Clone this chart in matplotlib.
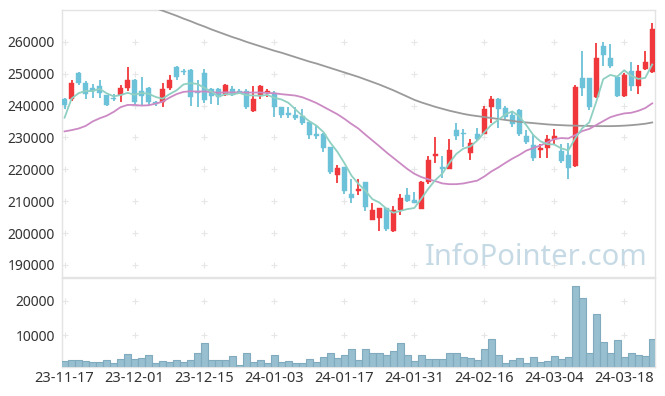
import numpy as np
import pandas as pd
import matplotlib
matplotlib.use("Agg")
import matplotlib.pyplot as plt

plt.rcParams['font.family'] = ['Noto Sans', 'DejaVu Sans']

# ---------------- data ----------------
opens = [242200, 242100, 250300, 247200, 245400, 246200, 243200, 242400, 243400, 245400,
         248100, 244700, 245600, 241200, 241000, 245400, 252100, 250700, 251200, 244700,
         250200, 245200, 245200, 243400, 245300, 244700, 244700, 238400, 242900, 243800,
         244000, 239600, 237800, 237200, 236600, 234700, 231200, 231200, 227000, 218200,
         220700, 212200, 213200, 215900, 204100, 204600, 207800, 200700, 207200, 211900,
         210300, 207600, 215900, 224200, 220700, 220100, 232200, 231400, 225200, 231200,
         231100, 239500, 242200, 239100, 237200, 238700, 230300, 227700, 226000, 226800,
         229600, 225600, 224400, 221000, 248600, 248600, 242600, 258700, 254900, 249000,
         242900, 251000, 246200, 251400, 250400]
highs = [242400, 248100, 250500, 247800, 246700, 248100, 243300, 243600, 246600, 252100,
         248300, 249000, 245800, 241500, 247000, 249500, 252300, 251500, 251400, 247900,
         251500, 245400, 245400, 246700, 246000, 245200, 245200, 246200, 246400, 245300,
         244500, 239700, 239600, 239600, 239000, 234800, 233700, 231300, 227100, 221200,
         220800, 217100, 217100, 216000, 209300, 207900, 207900, 208500, 212200, 214100,
         213000, 216200, 224300, 230200, 224200, 229400, 234600, 232700, 229400, 233000,
         239900, 242900, 242300, 239800, 238400, 238800, 232300, 231100, 228100, 230900,
         232800, 227800, 228300, 246500, 257200, 248700, 259600, 259800, 259300, 249100,
         250200, 253800, 252800, 257000, 266000]
lows = [238800, 241400, 246400, 242100, 242300, 242300, 239800, 241400, 241100, 244700,
        240300, 239800, 240300, 239900, 239600, 245000, 248100, 249500, 239800, 239600,
        240800, 240600, 240300, 242900, 243000, 243700, 238800, 237900, 242100, 242700,
        236500, 236200, 236200, 235400, 234000, 229400, 229400, 225500, 218400, 215800,
        212400, 209300, 211900, 207000, 204000, 200700, 200700, 200400, 205700, 209700,
        209300, 207500, 215300, 222100, 217200, 220000, 229200, 227100, 222900, 228900,
        231000, 234600, 233000, 235900, 233200, 230500, 228000, 222700, 223600, 223600,
        227800, 222000, 216900, 220800, 242900, 238700, 242500, 252500, 251700, 242800,
        242600, 244500, 243700, 251300, 250300]
closes = [240300, 247200, 247000, 243600, 244600, 243900, 240300, 242100, 245600, 248100,
          241000, 242900, 241100, 240500, 245300, 248100, 248900, 250400, 242600, 243900,
          241900, 242900, 242800, 246500, 243400, 244200, 239500, 242200, 246200, 244700,
          239500, 237000, 236900, 236000, 234500, 230900, 230300, 226800, 219100, 220300,
          213200, 210900, 213700, 208200, 207200, 207800, 201400, 207200, 211100, 210100,
          209500, 216100, 222800, 224700, 220100, 226200, 230400, 231100, 228100, 229400,
          239000, 242200, 239000, 236500, 234200, 231000, 228600, 223500, 226800, 229600,
          230400, 222600, 220300, 245700, 245500, 239500, 254900, 255900, 252300, 242900,
          249500, 246200, 251000, 253800, 264000]
volumes = [2430, 2720, 2720, 2430, 2140, 2140, 2720, 1850, 3010, 4670,
           3010, 3300, 4180, 1850, 2430, 2140, 2720, 2140, 2720, 4960,
           7580, 2720, 2720, 2720, 3890, 1260, 4960, 2140, 2720, 1850,
           4180, 2140, 2430, 1850, 1850, 3010, 2140, 3600, 4960, 3300,
           4180, 5930, 2720, 5930, 4960, 4760, 4180, 5350, 7580, 4370,
           2430, 4180, 3010, 3010, 3010, 4960, 4760, 3600, 3300, 2720,
           5930, 8850, 4180, 1850, 2720, 3300, 1850, 3600, 2140, 2430,
           3890, 3010, 3600, 24200, 20700, 4760, 16040, 7870, 4760, 8460,
           3600, 4760, 4180, 3890, 8850]

# moving-average values before enough candles are on the chart
ma5_head = [236200, 242200, 243900, 244600]
ma20_head = [231900, 232300, 232800, 233600, 235000, 236000, 236800, 238000, 239500, 240200,
             240200, 240000, 240100, 240600, 241200, 242500, 243600, 244300, 244500]
# 60-day MA as drawn (starts above the chart's top)
ma60_start = 12
ma60 = [271400, 270600, 269800, 269000, 268200, 267300, 266500, 265600, 264800, 263900,
        263100, 262300, 261500, 260800, 260000, 259300, 258600, 257900, 257200, 256600,
        255900, 255200, 254500, 253800, 253200, 252500, 251800, 251100, 250400, 249700,
        249000, 248200, 247400, 246600, 245700, 244800, 243800, 242800, 241800, 241000,
        240300, 239600, 239000, 238400, 237900, 237400, 237000, 236700, 236400, 236100,
        235800, 235500, 235200, 234900, 234700, 234500, 234300, 234100, 233950, 233850,
        233750, 233700, 233650, 233600, 233550, 233550, 233550, 233600, 233700, 233850,
        234050, 234300, 234700]

tick_labels = ["23-11-17", "23-12-01", "23-12-15", "24-01-03", "24-01-17",
               "24-01-31", "24-02-16", "24-03-04", "24-03-18"]
tick_step = 10
price_ticks = [190000, 200000, 210000, 220000, 230000, 240000, 250000, 260000]
vol_ticks = [10000, 20000]

# ---------------- styling ----------------
UP = "#f0383c"
DOWN = "#6cc2d8"
MA5_C = "#8fd0c2"
MA20_C = "#cc8ac4"
MA60_C = "#9a9a9a"
VOL_FC = "#97bfd0"
VOL_EC = "#80aabd"
FRAME = "#e3e3e3"
TXT = "#333333"

n = len(closes)
x = np.arange(n)
o = np.array(opens, float)
h = np.array(highs, float)
l = np.array(lows, float)
c = np.array(closes, float)
v = np.array(volumes, float)

s = pd.Series(c)
ma5 = s.rolling(5).mean().to_numpy()
ma5[:len(ma5_head)] = ma5_head
ma20 = s.rolling(20).mean().to_numpy()
ma20[:len(ma20_head)] = ma20_head
ma60_x = np.arange(ma60_start, ma60_start + len(ma60))

fig = plt.figure(figsize=(6.65, 3.96), dpi=100)
ax = fig.add_axes([62 / 665, 119 / 396, 593 / 665, 267 / 396])
axv = fig.add_axes([62 / 665, 29 / 396, 593 / 665, 89 / 396], sharex=ax)

xlim = (-0.37, 84.4)
tick_pos = [i * tick_step for i in range(len(tick_labels))]


def style(a):
    for sp in a.spines.values():
        sp.set_color(FRAME)
        sp.set_linewidth(1.0)
    a.tick_params(length=0, colors=TXT, labelsize=10)


# ---------- main price chart ----------
style(ax)
ax.set_xlim(*xlim)
ax.set_ylim(186200, 270000)
ax.set_yticks(price_ticks)
ax.set_yticklabels([str(t) for t in price_ticks])
ax.tick_params(axis='y', pad=5)
ax.tick_params(axis='x', labelbottom=False)

gx, gy = np.meshgrid(tick_pos, price_ticks)
ax.scatter(gx.ravel(), gy.ravel(), marker='+', s=14, color="#e6e6e6", linewidths=0.8, zorder=1)

ax.text(0.988, 0.045, "InfoPointer.com", transform=ax.transAxes, ha='right', va='baseline',
        fontsize=21, color="#c6dae5", family=['Noto Sans', 'DejaVu Sans'], zorder=2)

up = c >= o
cols = np.where(up, UP, DOWN)
ax.vlines(x, l, h, colors=cols, linewidth=1.3, zorder=3)
body_bot = np.minimum(o, c)
body_h = np.maximum(np.abs(c - o), 250)
ax.bar(x, body_h, bottom=body_bot, width=0.72, color=cols, edgecolor=cols, linewidth=0.3, zorder=4)

ax.plot(ma60_x, ma60, color=MA60_C, linewidth=1.3, zorder=5)
ax.plot(x, ma20, color=MA20_C, linewidth=1.3, zorder=5)
ax.plot(x, ma5, color=MA5_C, linewidth=1.3, zorder=5)

# ---------- volume chart ----------
style(axv)
axv.set_ylim(750, 26600)
axv.set_yticks(vol_ticks)
axv.set_yticklabels([str(t) for t in vol_ticks])
axv.tick_params(axis='y', pad=5)
axv.set_xticks(tick_pos)
axv.set_xticklabels(tick_labels)
axv.tick_params(axis='x', pad=3, labelsize=10.5)
gx2, gy2 = np.meshgrid(tick_pos, vol_ticks)
axv.scatter(gx2.ravel(), gy2.ravel(), marker='+', s=14, color="#e6e6e6", linewidths=0.8, zorder=1)
axv.bar(x, v, width=1.0, color=VOL_FC, edgecolor=VOL_EC, linewidth=0.8, zorder=3)

fig.savefig("out.png", dpi=100)
